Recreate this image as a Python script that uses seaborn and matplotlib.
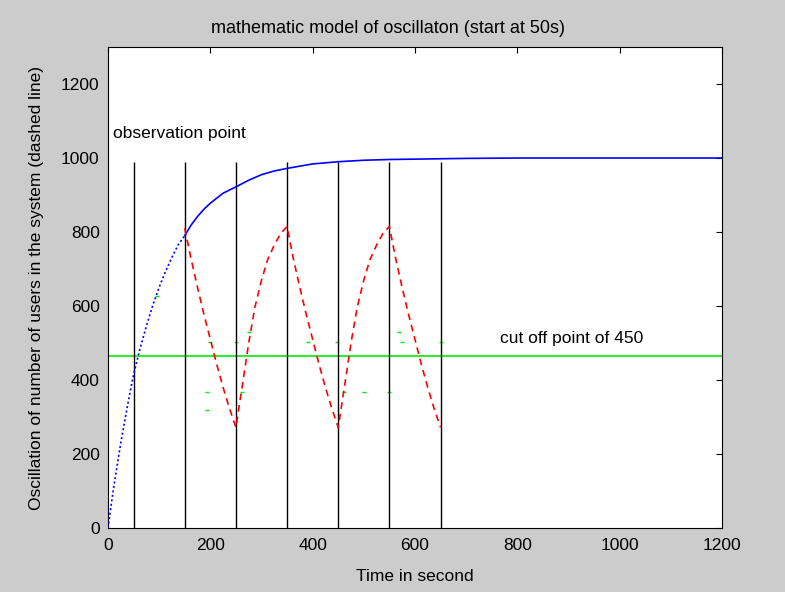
"""MATLAB-style oscillation model chart recreated with seaborn."""

import matplotlib

matplotlib.use("Agg")
import matplotlib.pyplot as plt
import numpy as np
import pandas as pd
import seaborn as sns

# blue curve: number of users growing towards 1000
growth_t = [0, 10, 25, 40, 50, 62, 75, 87, 100, 112, 125, 137, 150, 162, 175,
            187, 200, 225, 250, 275, 300, 325, 350, 400, 450, 500, 550, 600,
            700, 800, 1000, 1200]
growth_users = [0, 100, 231, 345, 415, 482, 546, 600, 651, 692, 732, 765, 790,
                818, 842, 861, 878, 905, 922, 940, 955, 965, 972, 984, 990, 994,
                996, 997, 999, 1000, 1000, 1000]

# red dashed oscillation after the cut off kicks in
osc_t = [150, 162, 175, 187, 200, 212, 225, 237, 250,
         262, 275, 287, 300, 312, 325, 337, 350,
         362, 375, 387, 400, 412, 425, 437, 450,
         462, 475, 487, 500, 512, 525, 537, 550,
         562, 575, 587, 600, 612, 625, 637, 650]
osc_users = [810, 730, 650, 580, 510, 445, 380, 325, 272,
             380, 500, 596, 670, 725, 765, 795, 815,
             730, 650, 580, 510, 445, 380, 325, 272,
             380, 500, 596, 670, 725, 765, 795, 815,
             730, 650, 580, 510, 445, 380, 325, 272]

observation_times = [50, 150, 250, 350, 450, 550, 650]
observation_top = 990
cutoff_level = 464

# stray green specks left by the original plot
speck_t = [96, 193, 194, 199, 250, 262, 275, 390, 448, 462, 500, 550, 568, 575, 650]
speck_users = [628, 367, 318, 504, 504, 367, 531, 504, 504, 367, 367, 367, 531, 504, 504]

sns.set_theme(style="white")
plt.rcParams.update(
    {
        "font.family": ["Liberation Sans", "DejaVu Sans"],
        "font.size": 12.5,
        "xtick.direction": "in",
        "ytick.direction": "in",
        "xtick.top": True,
        "ytick.right": True,
        "xtick.major.size": 4,
        "ytick.major.size": 4,
        "xtick.major.width": 0.8,
        "ytick.major.width": 0.8,
        "axes.linewidth": 0.8,
        "axes.edgecolor": "black",
        "xtick.color": "black",
        "ytick.color": "black",
        "text.color": "black",
        "axes.labelcolor": "black",
    }
)

growth = pd.DataFrame({"t": growth_t, "users": growth_users})
osc = pd.DataFrame({"t": osc_t, "users": osc_users})

fig = plt.figure(figsize=(7.85, 5.92), dpi=100, facecolor="#cccccc")
ax = fig.add_axes([0.1376, 0.108, 0.782, 0.8126])
ax.set_facecolor("white")

# cut off line
ax.axhline(cutoff_level, color="#00ee00", lw=1.2, zorder=1)
sns.scatterplot(x=speck_t, y=speck_users, ax=ax, color="#00ee00", marker="_",
                s=12, linewidth=1, zorder=1)

# observation points
ax.vlines(observation_times, 0, observation_top, color="black", lw=1, zorder=2)

# growth curve: dotted while it climbs, solid once it settles
early = growth[growth["t"] <= 150]
late = growth[growth["t"] >= 150]
sns.lineplot(data=early, x="t", y="users", ax=ax, color="blue", lw=1.2,
             linestyle=(0, (1.2, 1.5)), zorder=3)
sns.lineplot(data=late, x="t", y="users", ax=ax, color="blue", lw=1.2, zorder=3)

sns.lineplot(data=osc, x="t", y="users", ax=ax, color="red", lw=1.2,
             linestyle=(0, (4, 3)), zorder=4)

ax.set_xlim(0, 1200)
ax.set_ylim(0, 1300)
ax.set_xticks(np.arange(0, 1201, 200))
ax.set_yticks(np.arange(0, 1201, 200))
ax.tick_params(axis="x", labelsize=12.5, pad=7)
ax.tick_params(axis="y", labelsize=12.5, pad=6)

ax.text(10, 1067, "observation point", fontsize=12.5, va="center")
ax.text(766, 512, "cut off point of 450", fontsize=12.5, va="center")

# MATLAB centres the title on the figure rather than the axes
ax.set_title("mathematic model of oscillaton (start at 50s)", fontsize=13,
             pad=10, x=(388.5 - 108) / 614)
ax.set_xlabel("Time in second", fontsize=12.5, labelpad=12)
ax.set_ylabel("Oscillation of number of users in the system (dashed line)",
              fontsize=12.5, labelpad=12)

fig.savefig("out.png", dpi=100, facecolor=fig.get_facecolor())
